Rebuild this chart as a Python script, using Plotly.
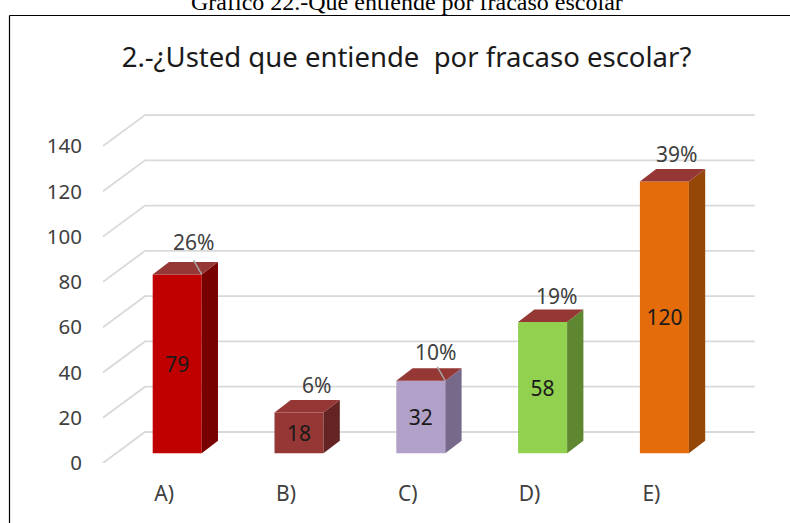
import plotly.graph_objects as go

categories = ["A)", "B)", "C)", "D)", "E)"]
values = [79, 18, 32, 58, 120]
percents = ["26%", "6%", "10%", "19%", "39%"]
y_ticks = [0, 20, 40, 60, 80, 100, 120, 140]

front_colors = ["#C00000", "#953735", "#B1A0C7", "#92D050", "#E46C0A"]
side_colors = ["#770000", "#632423", "#76698A", "#5F8731", "#954708"]
top_color = "#953735"
grid_color = "#D9D9D9"
ink = "#404040"

# pixel geometry of the plot, converted to axis units
W, H = 790, 523
L, R, T, B = 100, 20, 20, 60
px_x = 121.8
px_y = 2.264
x0_px = 177.2
base_gap = 9.7
xr = [(L - x0_px) / px_x, (W - R - x0_px) / px_x]
yspan = (H - B - T) / px_y
yr = [0, yspan]
yr2 = [-base_gap / px_y, yspan - base_gap / px_y]
bar_w = 49 / px_x
dx_bar, dy_bar = 16.3 / px_x, 12.5 / px_y
dx_wall, dy_wall = 42 / px_x, 31 / px_y
x_left = (103 - x0_px) / px_x
x_right = (754.7 - x0_px) / px_x
label_shift = [(16, 32), (17, 28), (15, 29), (14, 26), (12, 28)]
leader_bars = [0, 2]


def paper_x(px):
    return (px - L) / (W - L - R)


def paper_y(py):
    return 1 - (py - T) / (H - T - B)


fig = go.Figure()

for v in y_ticks:
    fig.add_trace(go.Scatter(
        x=[x_left, x_left + dx_wall, x_right], y=[v, v + dy_wall, v + dy_wall],
        mode="lines", line=dict(color=grid_color, width=1.8),
        xaxis="x", yaxis="y", showlegend=False, hoverinfo="skip"))

n = len(values)
xs = list(range(n))
fig.add_trace(go.Bar(
    x=xs, y=values, width=bar_w, marker=dict(color=front_colors, line_width=0),
    text=[str(v) for v in values], textposition="inside", textangle=0,
    insidetextanchor="middle", constraintext="none",
    insidetextfont=dict(family="Noto Sans", size=21, color="#1A1A1A"),
    xaxis="x", yaxis="y2", showlegend=False, hoverinfo="skip"))

for i, v in enumerate(values):
    xl, xr_ = i - bar_w / 2, i + bar_w / 2
    fig.add_trace(go.Scatter(
        x=[xr_, xr_ + dx_bar, xr_ + dx_bar, xr_, xr_],
        y=[0, dy_bar, v + dy_bar, v, 0],
        mode="lines", fill="toself", fillcolor=side_colors[i], line_width=0,
        xaxis="x", yaxis="y2", showlegend=False, hoverinfo="skip"))
    fig.add_trace(go.Scatter(
        x=[xl, xr_, xr_ + dx_bar, xl + dx_bar, xl],
        y=[v, v, v + dy_bar, v + dy_bar, v],
        mode="lines", fill="toself", fillcolor=top_color, line_width=0,
        xaxis="x", yaxis="y2", showlegend=False, hoverinfo="skip"))

for i in leader_bars:
    fig.add_trace(go.Scatter(
        x=[i + bar_w / 2, i + bar_w / 2 - 8 / px_x],
        y=[values[i], values[i] + 14 / px_y],
        mode="lines", line=dict(color="#A6A6A6", width=1.5),
        xaxis="x", yaxis="y2", showlegend=False, hoverinfo="skip"))

annotations = [
    dict(x=i, y=values[i], xref="x", yref="y2", text=percents[i], showarrow=False,
         xshift=label_shift[i][0], yshift=label_shift[i][1],
         font=dict(family="Noto Sans", size=21, color=ink))
    for i in range(n)
]
annotations.append(dict(
    x=paper_x(406.5), y=paper_y(2), xref="paper", yref="paper", xanchor="center", yanchor="middle",
    text="Gráfico 22.-Que entiende por fracaso escolar", showarrow=False,
    font=dict(family="Liberation Serif", size=24, color="#000000")))

fig.update_layout(
    width=W, height=H, margin=dict(l=L, r=R, t=T, b=B, autoexpand=False),
    paper_bgcolor="white", plot_bgcolor="rgba(0,0,0,0)", showlegend=False,
    barmode="overlay", annotations=annotations,
    title=dict(text="2.-¿Usted que entiende  por fracaso escolar?", x=406.5 / W, xanchor="center",
               y=1 - 57 / H, yanchor="middle",
               font=dict(family="Noto Sans", size=27.5, color="#1A1A1A")),
    xaxis=dict(range=xr, tickmode="array", tickvals=[i - 13 / px_x for i in xs], ticktext=categories,
               showgrid=False, zeroline=False, showline=False, ticks="", ticklabelstandoff=16,
               tickfont=dict(family="Noto Sans", size=21, color=ink), fixedrange=True),
    yaxis=dict(range=yr, tickmode="array", tickvals=y_ticks, showgrid=False, zeroline=False,
               showline=False, ticks="", ticklabelstandoff=17,
               tickfont=dict(family="Noto Sans", size=20.5, color=ink), fixedrange=True),
    yaxis2=dict(range=yr2, overlaying="y", visible=False, fixedrange=True),
    shapes=[
        dict(type="line", xref="paper", yref="paper", x0=paper_x(9.5), x1=paper_x(W), y0=paper_y(15.5),
             y1=paper_y(15.5), line=dict(color="#000000", width=1.2)),
        dict(type="line", xref="paper", yref="paper", x0=paper_x(9.5), x1=paper_x(9.5), y0=paper_y(H),
             y1=paper_y(15.5), line=dict(color="#000000", width=1.2)),
    ],
)
fig.write_html("out.html", config=dict(displayModeBar=False),
               post_script="document.body.style.margin='0';document.documentElement.style.overflow='hidden';")
